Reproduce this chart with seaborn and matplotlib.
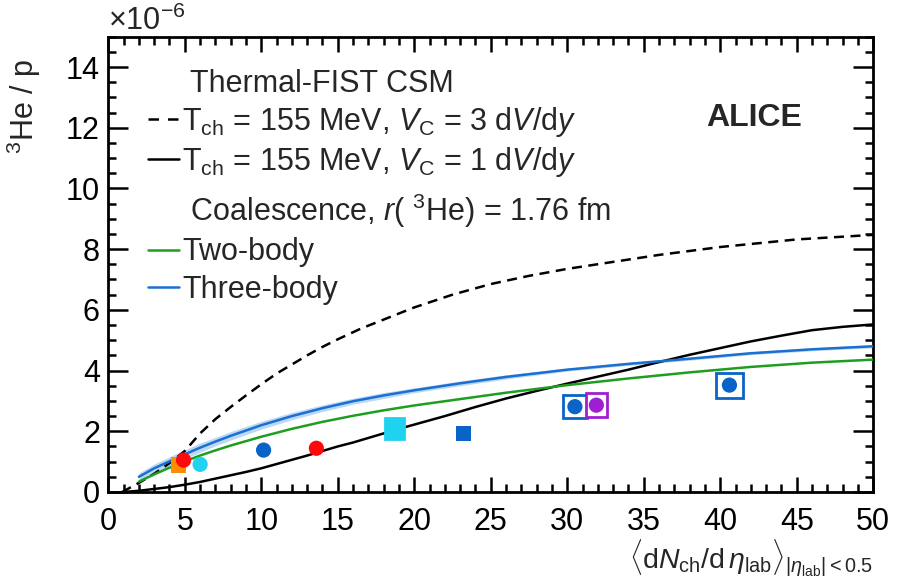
import numpy as np
import pandas as pd
import matplotlib
matplotlib.use("Agg")
import matplotlib.pyplot as plt
import seaborn as sns
from matplotlib.lines import Line2D
from matplotlib.patches import Rectangle

# ---------------- data ----------------
# Thermal-FIST CSM, Vc = 3 dV/dy (dashed)
csm3_x = [0.9, 2, 3, 4, 5, 6, 7, 8, 9, 10, 11, 12, 13, 14, 15, 16.5, 18, 20, 22.5, 25, 27.5, 30, 33, 36, 40, 45, 50]
csm3_y = [0.0, 0.3, 0.6, 0.95, 1.35, 1.93, 2.4, 2.8, 3.18, 3.55, 3.9, 4.2, 4.5, 4.78, 5.03, 5.38, 5.68,
          6.08, 6.5, 6.85, 7.12, 7.35, 7.58, 7.81, 8.07, 8.32, 8.47]
# Thermal-FIST CSM, Vc = 1 dV/dy (solid)
csm1_x = [1, 2, 3, 4, 5, 6, 7, 8, 9, 10, 11, 12, 13, 14, 15, 16, 17, 18, 19, 20, 22, 24, 26, 28, 30,
          32, 34, 36, 38, 40, 42, 44, 46, 48, 50]
csm1_y = [0.0, 0.04, 0.1, 0.16, 0.24, 0.33, 0.44, 0.55, 0.66, 0.78, 0.92, 1.06, 1.2, 1.35, 1.5, 1.63,
          1.78, 1.93, 2.08, 2.22, 2.5, 2.8, 3.08, 3.33, 3.57, 3.8, 4.03, 4.28, 4.52, 4.74, 4.96, 5.15,
          5.33, 5.44, 5.52]
# Coalescence two-body
two_x = [2, 3, 4, 5, 6, 7, 8, 10, 12, 14, 16, 18, 20, 23, 26, 30, 34, 38, 42, 46, 50]
two_y = [0.34, 0.58, 0.8, 1.01, 1.2, 1.37, 1.53, 1.82, 2.08, 2.31, 2.51, 2.69, 2.85, 3.06, 3.27, 3.52,
         3.74, 3.94, 4.12, 4.26, 4.36]
# Coalescence three-body with uncertainty band
three_x = [2, 3, 4, 5, 6, 7, 8, 10, 12, 14, 16, 18, 20, 23, 26, 30, 34, 38, 42, 46, 50]
three_y = [0.5, 0.78, 1.01, 1.24, 1.46, 1.66, 1.85, 2.2, 2.5, 2.76, 2.99, 3.18, 3.35, 3.58, 3.79, 4.03,
           4.22, 4.39, 4.57, 4.7, 4.8]
three_err = [0.13, 0.14, 0.15, 0.15, 0.15, 0.14, 0.14, 0.13, 0.12, 0.11, 0.1, 0.1, 0.08, 0.08, 0.07,
             0.05, 0.05, 0.05, 0.05, 0.05, 0.05]

# Measurements
pt_x = [4.6, 4.92, 13.6, 6.0, 18.7, 10.15, 30.5, 40.6, 23.2, 31.9]
pt_y = [0.89, 1.05, 1.44, 0.91, 2.09, 1.38, 2.81, 3.52, 1.93, 2.86]
pt_sys_x = [np.nan, np.nan, np.nan, np.nan, 0.6, np.nan, 0.76, 0.9, np.nan, 0.69]
pt_sys_y = [np.nan, np.nan, np.nan, np.nan, 0.36, np.nan, 0.38, 0.41, np.nan, 0.39]
pt_group = ["orange", "red", "red", "cyan", "cyan", "blue", "blue", "blue", "bluesq", "purple"]

x_ticks = [0, 5, 10, 15, 20, 25, 30, 35, 40, 45, 50]
y_ticks = [0, 2, 4, 6, 8, 10, 12, 14]

palette = {"orange": "#ff8c00", "red": "#ff0a0a", "cyan": "#1ed2f0",
           "blue": "#0a64c8", "bluesq": "#0a64c8", "purple": "#a01ed2"}
markers = {"orange": "s", "red": "o", "cyan": "o", "blue": "o", "bluesq": "s", "purple": "o"}

# ---------------- style ----------------
sns.set_theme(style="ticks")
plt.rcParams["font.family"] = ["Liberation Sans", "DejaVu Sans"]
plt.rcParams["mathtext.fontset"] = "custom"
plt.rcParams["mathtext.rm"] = "Liberation Sans"
plt.rcParams["mathtext.it"] = "Liberation Sans:italic"
plt.rcParams["mathtext.bf"] = "Liberation Sans:bold"

FS = 22

fig = plt.figure(figsize=(9.01, 5.79), dpi=100)
ax = fig.add_axes([0.1202, 0.1503, 0.849, 0.7864])

# curves
sns.lineplot(x=csm3_x, y=csm3_y, ax=ax, color="black", lw=1.8, linestyle=(0, (4.0, 2.6)), zorder=3)
sns.lineplot(x=csm1_x, y=csm1_y, ax=ax, color="black", lw=1.8, zorder=3)
lo = np.array(three_y) - np.array(three_err)
hi = np.array(three_y) + np.array(three_err)
ax.fill_between(three_x, lo, hi, color="#a4ccf2", alpha=0.75, lw=0, zorder=2)
sns.lineplot(x=two_x, y=two_y, ax=ax, color="#1e9e1e", lw=1.8, zorder=3)
sns.lineplot(x=three_x, y=three_y, ax=ax, color="#1a6fd0", lw=1.8, zorder=3)

# data points
df = pd.DataFrame({"x": pt_x, "y": pt_y, "sx": pt_sys_x, "sy": pt_sys_y, "g": pt_group})

for _, r in df.dropna().iterrows():
    col = palette[r.g]
    fc = col if r.g == "cyan" else "white"
    ax.add_patch(Rectangle((r.x - r.sx, r.y - r.sy), 2 * r.sx, 2 * r.sy,
                           facecolor=fc, edgecolor=col, lw=2.0, zorder=4))

ax.errorbar(df.x[5], df.y[5], yerr=0.12, color=palette["blue"], lw=2, capsize=0, zorder=5, fmt="none")

sns.scatterplot(data=df, x="x", y="y", hue="g", style="g", palette=palette, markers=markers,
                s=120, edgecolor="none", linewidth=0, legend=False, ax=ax, zorder=6)

# ---------------- axes ----------------
ax.set_xlim(0, 50)
ax.set_ylim(0, 15)
ax.set_xticks(x_ticks)
ax.set_yticks(y_ticks)
ax.set_xticks(np.arange(0, 50.1, 1), minor=True)
ax.set_yticks(np.arange(0, 15.01, 0.5), minor=True)
ax.tick_params(which="both", direction="in", top=True, right=True, width=1.8, colors="black",
               labelsize=FS)
ax.tick_params(axis="x", which="major", length=11, pad=11)
ax.tick_params(axis="x", which="minor", length=6)
ax.tick_params(axis="y", which="major", length=14.5, pad=6)
ax.tick_params(axis="y", which="minor", length=6)
for s in ax.spines.values():
    s.set_linewidth(2.0)
    s.set_color("black")
    s.set_visible(True)

ax.set_ylabel(r"$^{3}$He / p", fontsize=FS, loc="top")
ax.yaxis.set_label_coords(-0.086, 0.95)
ax.set_xlabel(r"$\langle$d$N_{\rm ch}$/d$\,\eta_{\rm lab}\rangle_{|\eta_{\rm lab}|<0.5}$",
              fontsize=20.5, loc="right", labelpad=0)
ax.text(0.0, 1.0, r"$\times$10$^{-6}$", transform=ax.transAxes, fontsize=FS, ha="left", va="bottom")
ax.text(0.844, 0.821, "ALICE", transform=ax.transAxes, fontsize=23, fontweight="bold",
        ha="center", va="center")

# ---------------- legends ----------------
blank = Line2D([], [], linestyle="none")
h1 = [blank,
      Line2D([], [], color="black", lw=1.8, linestyle=(0, (4.2, 3.6))),
      Line2D([], [], color="black", lw=1.8)]
l1 = [" Thermal-FIST CSM",
      r"T$_{\rm ch}$ = 155 MeV, $V_{\rm C}$ = 3 d$V$/d$y$",
      r"T$_{\rm ch}$ = 155 MeV, $V_{\rm C}$ = 1 d$V$/d$y$"]
leg1 = ax.legend(h1, l1, loc="upper left", bbox_to_anchor=(0.052, 0.93), frameon=False,
                 fontsize=FS, handlelength=1.0, handletextpad=0.12, labelspacing=0.2,
                 borderpad=0, borderaxespad=0)
ax.add_artist(leg1)
h2 = [blank,
      Line2D([], [], color="#1e9e1e", lw=1.8),
      Line2D([], [], color="#1a6fd0", lw=1.8)]
l2 = [r" Coalescence, $r$( $^{3}$He) = 1.76 fm", "Two-body", "Three-body"]
ax.legend(h2, l2, loc="upper left", bbox_to_anchor=(0.052, 0.66), frameon=False,
          fontsize=FS, handlelength=1.0, handletextpad=0.12, labelspacing=0.25,
          borderpad=0, borderaxespad=0)

fig.savefig("out.png", dpi=100)
